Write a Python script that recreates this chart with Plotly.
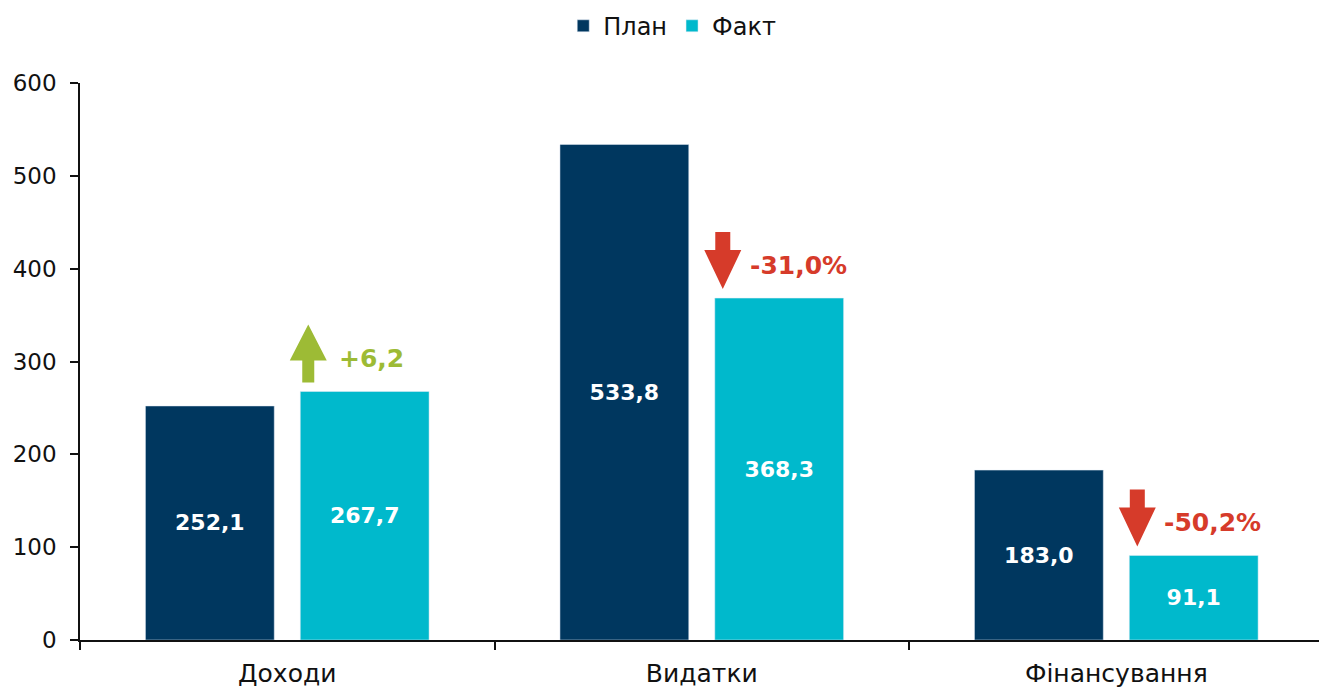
import plotly.graph_objects as go

categories = ["Доходи", "Видатки", "Фінансування"]
plan_values = [252.1, 533.8, 183.0]
fact_values = [267.7, 368.3, 91.1]
change_labels = ["+6,2", "-31,0%", "-50,2%"]
change_direction = ["up", "down", "down"]
y_ticks = [0, 100, 200, 300, 400, 500, 600]

NAVY = "#00375F"
CYAN = "#00B9CC"
GREEN = "#9DBB35"
RED = "#D63B2A"
TEXT = "#111111"
FONT = "DejaVu Sans"

fig = go.Figure()
for name, vals, col in (("План", plan_values, NAVY), ("Факт", fact_values, CYAN)):
    fig.add_trace(go.Bar(
        name=name, x=categories, y=vals, marker_color=col,
        texttemplate="%{y:.1f}", textposition="inside", insidetextanchor="middle",
        textfont=dict(family=FONT, size=22, color="white", weight="bold"),
        textangle=0,
    ))

UP_PATH = "M15,9 L15,31 L2.5,31 L21,67 L39.5,31 L27,31 L27,9 Z"
DOWN_PATH = "M21,9 L2.5,48 L13.5,48 L13.5,66 L28.5,66 L28.5,48 L39.5,48 Z"

shapes = []
annotations = []
for i, (val, lab, d) in enumerate(zip(fact_values, change_labels, change_direction)):
    color = GREEN if d == "up" else RED
    shapes.append(dict(
        type="path", xref="x", yref="y", xsizemode="pixel", ysizemode="pixel",
        xanchor=i, yanchor=val, path=UP_PATH if d == "up" else DOWN_PATH,
        fillcolor=color, line=dict(width=0),
    ))
    annotations.append(dict(
        x=i, y=val, xref="x", yref="y", text=lab, showarrow=False,
        xanchor="left", yanchor="middle", xshift=50 if d == "up" else 46, yshift=33,
        font=dict(family=FONT, size=25, color=color, weight="bold"),
    ))

fig.update_layout(
    width=1319, height=688,
    margin=dict(l=80, r=0, t=83, b=42),
    paper_bgcolor="white", plot_bgcolor="white",
    separators=", ",
    barmode="group", bargap=0.253, bargroupgap=0.168,
    font=dict(family=FONT, color=TEXT),
    legend=dict(orientation="h", x=0.478, xanchor="center", y=1.102, yanchor="middle",
                font=dict(family=FONT, size=24, color=TEXT),
                itemwidth=30, traceorder="normal"),
    shapes=shapes,
    annotations=annotations,
    showlegend=True,
)
fig.update_xaxes(
    type="category", range=[-0.5, 2.489],
    showline=True, linecolor=TEXT, linewidth=1.5,
    ticks="outside", tickson="boundaries", ticklen=8, tickcolor=TEXT, tickwidth=1.5,
    tickfont=dict(family=FONT, size=25, color=TEXT),
    ticklabelstandoff=10,
    showgrid=False, zeroline=False,
)
fig.update_yaxes(
    range=[0, 600], tickvals=y_ticks,
    showline=True, linecolor=TEXT, linewidth=1.5,
    ticks="outside", ticklen=8, tickcolor=TEXT, tickwidth=1.5,
    tickfont=dict(family=FONT, size=23, color=TEXT),
    ticklabelstandoff=9,
    showgrid=False, zeroline=False,
)

fig.write_html(
    "out.html",
    config={"displayModeBar": False},
    post_script="document.body.style.margin='0';document.body.style.overflow='hidden';",
)
